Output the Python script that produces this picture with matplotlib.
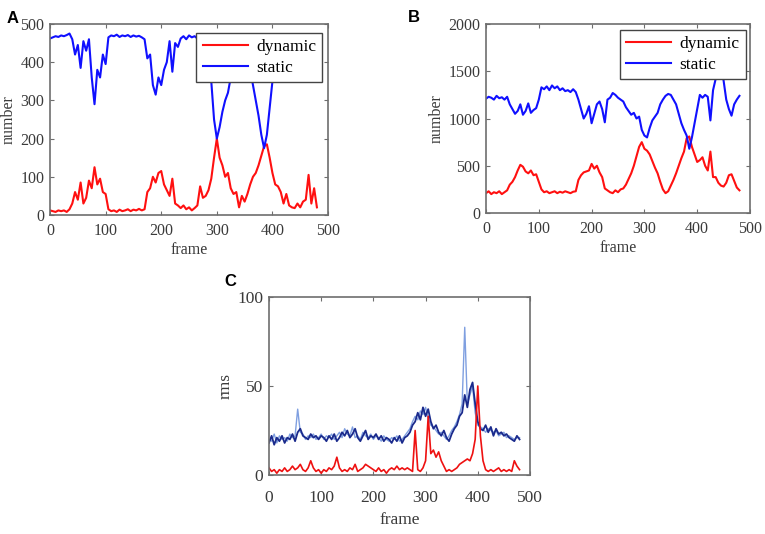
import numpy as np
import matplotlib.pyplot as plt

# frame numbers (sampled every 5 frames)
frames = np.arange(0, 481, 5)

# panel A: number of dynamic / static points
a_static = [462, 465, 468, 466, 470, 468, 471, 475, 460, 420,
            445, 385, 455, 430, 460, 360, 290, 380, 360, 420,
            395, 465, 470, 468, 472, 466, 470, 468, 471, 466,
            470, 467, 469, 465, 460, 410, 420, 340, 315, 360,
            340, 380, 400, 455, 375, 450, 440, 462, 468, 460,
            470, 465, 468, 462, 465, 455, 440, 400, 350, 250,
            200, 230, 270, 300, 320, 360, 400, 440, 455, 460,
            450, 420, 380, 340, 300, 260, 210, 175, 210, 280,
            350, 400, 430, 445, 450, 455, 460, 450, 455, 462,
            458, 460, 440, 420, 450, 440, 455]
a_dynamic = [12, 10, 8, 12, 10, 12, 8, 15, 30, 60,
             40, 85, 30, 45, 90, 70, 125, 80, 95, 60,
             55, 15, 10, 12, 8, 14, 10, 12, 15, 10,
             14, 12, 16, 12, 15, 60, 70, 100, 85, 110,
             115, 80, 65, 50, 95, 30, 25, 18, 25, 15,
             20, 12, 18, 25, 75, 45, 50, 65, 95, 150,
             200, 150, 130, 100, 110, 70, 55, 60, 20, 50,
             35, 55, 80, 100, 110, 130, 155, 180, 185, 150,
             110, 80, 75, 60, 30, 55, 25, 20, 18, 30,
             20, 35, 40, 105, 30, 70, 20]

# panel B
b_static = [1210, 1230, 1220, 1200, 1240, 1215, 1225, 1200, 1230, 1150,
            1100, 1050, 1080, 1150, 1040, 1080, 1160, 1060, 1090, 1110,
            1200, 1330, 1310, 1340, 1300, 1350, 1320, 1340, 1300, 1320,
            1290, 1300, 1280, 1310, 1280, 1200, 1100, 1000, 1050, 1130,
            950, 1050, 1150, 1180, 1100, 960, 1200, 1220, 1270, 1250,
            1220, 1200, 1180, 1120, 1080, 1040, 1060, 1000, 1020, 880,
            820, 800, 900, 980, 1020, 1060, 1150, 1200, 1240, 1260,
            1250, 1200, 1150, 1050, 950, 880, 820, 680, 800, 950,
            1100, 1250, 1220, 1250, 1230, 980, 1300, 1420, 1450, 1550,
            1400, 1200, 1100, 1030, 1150, 1200, 1240]
b_dynamic = [210, 230, 200, 220, 210, 230, 200, 220, 240, 300,
             330, 380, 450, 510, 490, 440, 420, 450, 400, 410,
             330, 250, 220, 230, 210, 220, 230, 210, 225, 215,
             230, 220, 210, 225, 230, 350, 400, 430, 440, 450,
             520, 470, 500, 430, 380, 260, 240, 220, 210, 240,
             220, 250, 260, 300, 360, 420, 500, 600, 700, 750,
             680, 660, 620, 550, 480, 420, 330, 250, 210, 230,
             290, 350, 420, 500, 580, 650, 790, 810, 700, 620,
             540, 560, 590, 500, 450, 650, 380, 380, 320, 290,
             280, 320, 400, 410, 340, 270, 240]

# panel C: rms
c_blue = [18, 22, 17, 21, 19, 22, 18, 21, 20, 23,
          19, 24, 26, 22, 21, 20, 23, 21, 22, 20,
          22, 21, 19, 22, 20, 23, 19, 21, 24, 22,
          25, 21, 23, 26, 21, 19, 22, 25, 20, 22,
          21, 23, 20, 22, 19, 21, 20, 18, 21, 19,
          22, 18, 21, 22, 24, 28, 30, 35, 31, 38,
          33, 37, 30, 26, 28, 24, 22, 25, 21, 19,
          23, 26, 28, 33, 35, 45, 38, 48, 52, 40,
          30, 26, 25, 28, 24, 27, 22, 26, 23, 24,
          22, 23, 21, 20, 19, 22, 20]
c_lightblue = [20, 19, 23, 18, 22, 20, 21, 19, 23, 21,
               22, 37, 24, 23, 20, 22, 21, 23, 20, 21,
               23, 20, 22, 21, 23, 20, 22, 24, 21, 26,
               23, 22, 27, 21, 22, 20, 24, 22, 21, 23,
               20, 22, 21, 19, 22, 20, 19, 21, 20, 22,
               19, 20, 22, 24, 26, 30, 33, 31, 36, 34,
               38, 32, 28, 27, 25, 23, 24, 22, 20, 22,
               25, 27, 30, 34, 40, 83, 40, 45, 50, 35,
               28, 27, 26, 24, 26, 25, 24, 25, 22, 23,
               24, 21, 22, 21, 20, 21, 21]
c_red = [4, 2, 3, 1, 3, 2, 4, 2, 3, 5,
         3, 4, 6, 3, 2, 4, 8, 4, 2, 3,
         1, 3, 2, 4, 3, 5, 10, 4, 2, 3,
         2, 4, 3, 6, 2, 3, 4, 6, 5, 4,
         3, 2, 4, 2, 3, 1, 3, 4, 3, 5,
         3, 4, 3, 4, 3, 2, 25, 3, 2, 4,
         8, 33, 12, 14, 10, 13, 8, 5, 2, 3,
         2, 3, 4, 6, 7, 8, 9, 8, 12, 20,
         50, 22, 8, 3, 2, 3, 2, 3, 4, 2,
         3, 2, 3, 2, 8, 5, 3]

serif = 'Liberation Serif'
frame_col = '#6e6e6e'
text_col = '#3a3a3a'

fig = plt.figure(figsize=(7.65, 5.34), dpi=100)


def style_axes(ax, yticks, ylabel, size=11.5, pad=6, xlabelpad=2):
    ax.set_xlim(0, 500)
    ax.set_xticks([0, 100, 200, 300, 400, 500])
    ax.set_yticks(yticks)
    ax.set_ylim(yticks[0], yticks[-1])
    ax.tick_params(direction='in', top=True, right=True, length=3,
                   color=frame_col, labelsize=size, labelcolor=text_col, pad=pad)
    ax.tick_params(axis='y', pad=4)
    for lab in ax.get_xticklabels() + ax.get_yticklabels():
        lab.set_fontfamily(serif)
    for sp in ax.spines.values():
        sp.set_color(frame_col)
        sp.set_linewidth(1.2)
    ax.set_xlabel('frame', fontfamily=serif, fontsize=size, color=text_col,
                  labelpad=xlabelpad)
    ax.set_ylabel(ylabel, fontfamily=serif, fontsize=size, color=text_col, labelpad=3)


def add_legend(ax, anchor):
    leg = ax.legend(loc='upper right', bbox_to_anchor=anchor,
                    prop={'family': serif, 'size': 12.5}, fancybox=False,
                    framealpha=1, edgecolor='#444444', handlelength=2.6,
                    borderpad=0.35, labelspacing=0.3, handletextpad=0.5,
                    borderaxespad=0)
    leg.get_frame().set_linewidth(1.0)


# A
axA = fig.add_axes([0.0654, 0.5974, 0.3634, 0.3577])
axA.plot(frames, a_dynamic, color='#ff1010', lw=1.5, label='dynamic')
axA.plot(frames, a_static, color='#1010ff', lw=1.5, label='static')
style_axes(axA, [0, 100, 200, 300, 400, 500], 'number')
add_legend(axA, (0.98, 0.955))

# B
axB = fig.add_axes([0.6353, 0.6011, 0.3451, 0.3539])
axB.plot(frames, b_dynamic, color='#ff1010', lw=1.5, label='dynamic')
axB.plot(frames, b_static, color='#1010ff', lw=1.5, label='static')
style_axes(axB, [0, 500, 1000, 1500, 2000], 'number')
add_legend(axB, (0.983, 0.97))

# C
axC = fig.add_axes([0.3516, 0.1105, 0.3412, 0.3333])
axC.plot(frames, c_lightblue, color='#7f9fe0', lw=1.0)
axC.plot(frames, c_blue, color='#1a2a8c', lw=1.3)
axC.plot(frames, c_red, color='#ee1111', lw=1.2)
style_axes(axC, [0, 50, 100], 'rms', size=12.5, pad=11, xlabelpad=4)

# panel letters
for x, y, s in [(0.008, 0.965, 'A'), (0.533, 0.968, 'B'), (0.293, 0.472, 'C')]:
    fig.text(x, y, s, fontsize=12, fontweight='bold', fontfamily='Liberation Sans',
             va='center', ha='left')

plt.savefig('out.png', dpi=100)
